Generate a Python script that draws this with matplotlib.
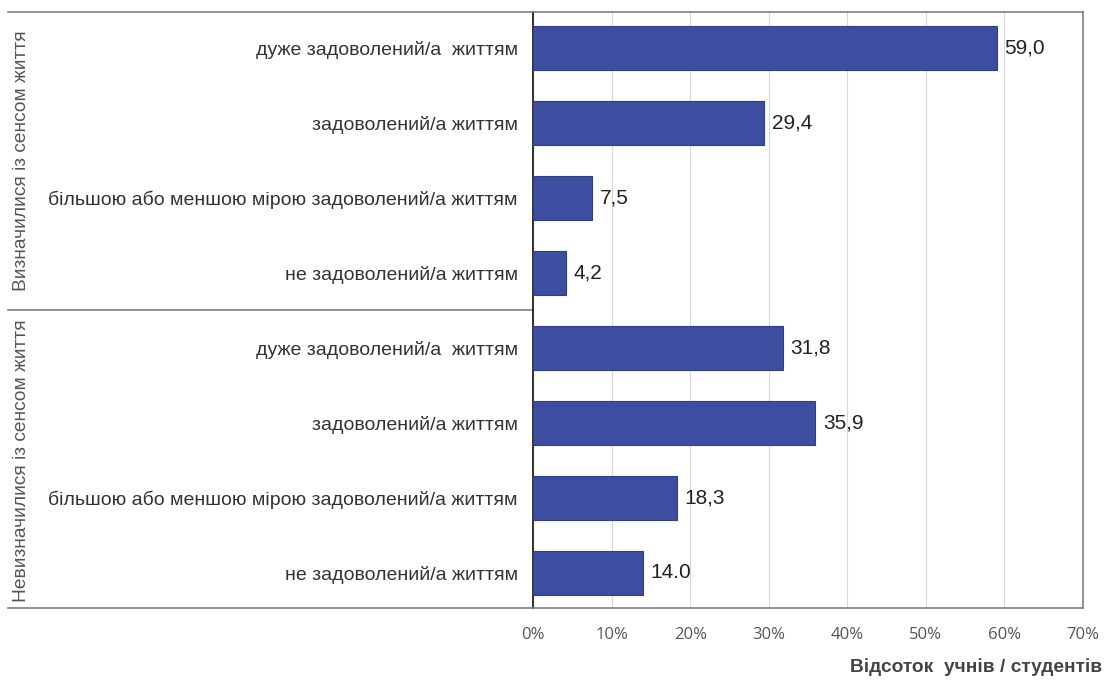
import matplotlib.pyplot as plt
import numpy as np

plt.rcParams['font.family'] = ['Liberation Sans', 'DejaVu Sans']

groups = ["Визначилися із сенсом життя", "Невизначилися із сенсом життя"]
categories = [
    "дуже задоволений/а  життям",
    "задоволений/а життям",
    "більшою або меншою мірою задоволений/а життям",
    "не задоволений/а життям",
    "дуже задоволений/а  життям",
    "задоволений/а життям",
    "більшою або меншою мірою задоволений/а життям",
    "не задоволений/а життям",
]
values = [59.0, 29.4, 7.5, 4.2, 31.8, 35.9, 18.3, 14.0]
value_labels = ["59,0", "29,4", "7,5", "4,2", "31,8", "35,9", "18,3", "14.0"]
xticks = [0, 10, 20, 30, 40, 50, 60, 70]

fig = plt.figure(figsize=(11.05, 6.8), dpi=100)
ax = fig.add_axes([533 / 1105, 1 - 608 / 680, 550 / 1105, 596 / 680])

y = np.arange(len(values))
ax.barh(y, values, height=0.58, color="#3d4ea1", edgecolor="#2f3d8a", linewidth=0.8, zorder=3)

for yi, v, lab in zip(y, values, value_labels):
    ax.text(v + 1.0, yi, lab, va="center", ha="left", fontsize=15, color="#222222")

ax.set_xlim(0, 70)
ax.set_ylim(7.47, -0.48)
ax.set_xticks(xticks)
ax.set_xticklabels([f"{t}%" for t in xticks], fontsize=12, color="#555555",
                   family=["Open Sans", "DejaVu Sans"])
ax.tick_params(axis="x", length=0, pad=14)
ax.grid(axis="x", color="#d9d9d9", linewidth=0.8, zorder=0)

ax.set_yticks(y)
ax.set_yticklabels(categories, fontsize=14, color="#333333")
ax.tick_params(axis="y", length=0, pad=11)

for side in ["top", "bottom", "right"]:
    ax.spines[side].set_color("#7f7f7f")
    ax.spines[side].set_linewidth(1.2)
ax.spines["left"].set_color("#111111")
ax.spines["left"].set_linewidth(1.2)

# group frame lines extending to the left
tr = ax.get_yaxis_transform()
x0 = (8 - 533) / 550
for yy in [-0.48, 3.5, 7.47]:
    ax.plot([x0, 0], [yy, yy], transform=tr, color="#7f7f7f", linewidth=1.2, clip_on=False)

for gi, g in enumerate(groups):
    ax.text((22 - 533) / 550, 1.5 + 4 * gi, g, transform=tr, rotation=90,
            va="center", ha="center", fontsize=13.8, color="#555555")

fig.text(1102 / 1105, 1 - 667 / 680, "Відсоток  учнів / студентів", ha="right", va="center",
         fontsize=13.8, fontweight="bold", color="#444444")

fig.savefig("out.png", dpi=100)
